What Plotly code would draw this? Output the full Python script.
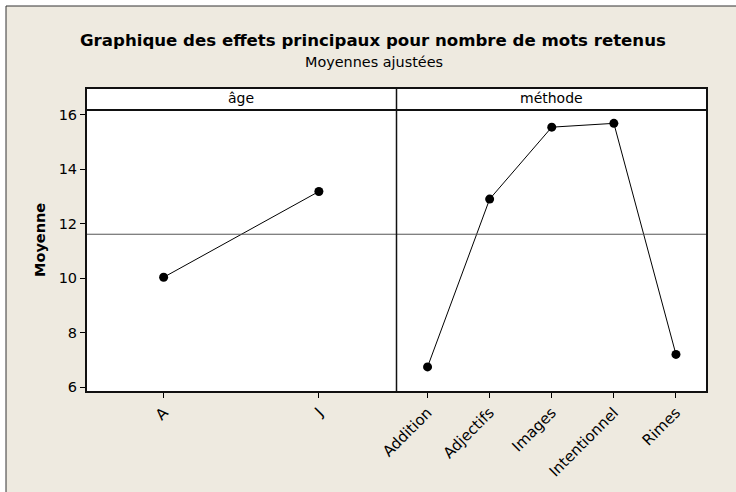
import plotly.graph_objects as go

# ---- data ----
age_levels = ["A", "J"]
age_means = [10.03, 13.18]
method_levels = ["Addition", "Adjectifs", "Images", "Intentionnel", "Rimes"]
method_means = [6.74, 12.90, 15.54, 15.68, 7.20]
grand_mean = [11.61]
y_ticks = [6, 8, 10, 12, 14, 16]
panel_titles = ["âge", "méthode"]

# ---- geometry (pixels) ----
W, H = 736, 492
L, R, T, B = 86, 707, 110, 392
PW, PH = R - L, B - T
STRIP_TOP = 88

def px(x):
    return (x - L) / PW

def py(y):
    return (B - y) / PH

FONT = "DejaVu Sans"
BEIGE = "#EEEAE0"

fig = go.Figure()
fig.add_trace(go.Scatter(x=age_levels, y=age_means, mode="lines+markers",
                         xaxis="x", yaxis="y",
                         line=dict(color="black", width=1),
                         marker=dict(color="black", size=9), showlegend=False))
fig.add_trace(go.Scatter(x=method_levels, y=method_means, mode="lines+markers",
                         xaxis="x2", yaxis="y",
                         line=dict(color="black", width=1),
                         marker=dict(color="black", size=9), showlegend=False))

xcommon = dict(type="category", showgrid=False, zeroline=False, showline=False,
               ticks="outside", ticklen=5, tickwidth=1, tickcolor="black",
               tickangle=-45, tickfont=dict(family=FONT, size=15, color="black"),
               anchor="y")
fig.update_layout(
    xaxis=dict(domain=[0, 0.5], range=[-0.5, 1.5], **xcommon),
    xaxis2=dict(domain=[0.5, 1], range=[-0.5, 4.5], **xcommon),
    yaxis=dict(range=[5.82, 16.17], tickvals=y_ticks, showgrid=False, zeroline=False,
               showline=False, ticks="outside", ticklen=5, tickwidth=1,
               tickcolor="black", tickfont=dict(family=FONT, size=14.5, color="black"),
               anchor="x"),
    width=W, height=H,
    margin=dict(l=L, r=W - R, t=T, b=H - B, pad=0),
    paper_bgcolor="white", plot_bgcolor="rgba(0,0,0,0)",
    showlegend=False,
)

shapes = [
    # beige outer frame (extends beyond the visible page)
    dict(type="rect", xref="paper", yref="paper", x0=px(6), x1=px(W + 20),
         y0=py(H + 20), y1=py(6), fillcolor=BEIGE,
         line=dict(color="#333333", width=1), layer="below"),
    # white plot area
    dict(type="rect", xref="paper", yref="paper", x0=0, x1=1, y0=0, y1=1,
         fillcolor="white", line=dict(width=0), layer="below"),
    # strip
    dict(type="rect", xref="paper", yref="paper", x0=0, x1=1, y0=1, y1=py(STRIP_TOP),
         fillcolor="white", line=dict(width=0), layer="below"),
    # grand mean reference line
    dict(type="line", xref="paper", yref="y", x0=0, x1=1, y0=grand_mean[0],
         y1=grand_mean[0], line=dict(color="#555555", width=1)),
    # borders
    dict(type="rect", xref="paper", yref="paper", x0=0, x1=1, y0=0, y1=py(STRIP_TOP),
         fillcolor="rgba(0,0,0,0)", line=dict(color="#111111", width=2)),
    dict(type="line", xref="paper", yref="paper", x0=0, x1=1, y0=1, y1=1,
         line=dict(color="#111111", width=2)),
    dict(type="line", xref="paper", yref="paper", x0=0.5, x1=0.5, y0=0, y1=py(STRIP_TOP),
         line=dict(color="#111111", width=1.5)),
]
fig.update_layout(shapes=shapes)

annotations = [
    dict(text="<b>Graphique des effets principaux pour nombre de mots retenus</b>",
         x=px(373), y=py(41), xref="paper", yref="paper", showarrow=False,
         xanchor="center", yanchor="middle",
         font=dict(family=FONT, size=16.6, color="black")),
    dict(text="Moyennes ajustées", x=px(374), y=py(62), xref="paper", yref="paper",
         showarrow=False, xanchor="center", yanchor="middle",
         font=dict(family=FONT, size=14.4, color="black")),
    dict(text=panel_titles[0], x=0.25, y=py(98.5), xref="paper", yref="paper",
         showarrow=False, xanchor="center", yanchor="middle",
         font=dict(family=FONT, size=14, color="black")),
    dict(text=panel_titles[1], x=0.75, y=py(98.5), xref="paper", yref="paper",
         showarrow=False, xanchor="center", yanchor="middle",
         font=dict(family=FONT, size=14, color="black")),
    dict(text="<b>Moyenne</b>", x=px(40), y=py(240), xref="paper", yref="paper",
         showarrow=False, xanchor="center", yanchor="middle", textangle=-90,
         font=dict(family=FONT, size=14.5, color="black")),
]
fig.update_layout(annotations=annotations)

fig.write_html(
    "out.html",
    config={"displayModeBar": False},
    post_script="document.body.style.margin='0';document.body.style.overflow='hidden';",
)
